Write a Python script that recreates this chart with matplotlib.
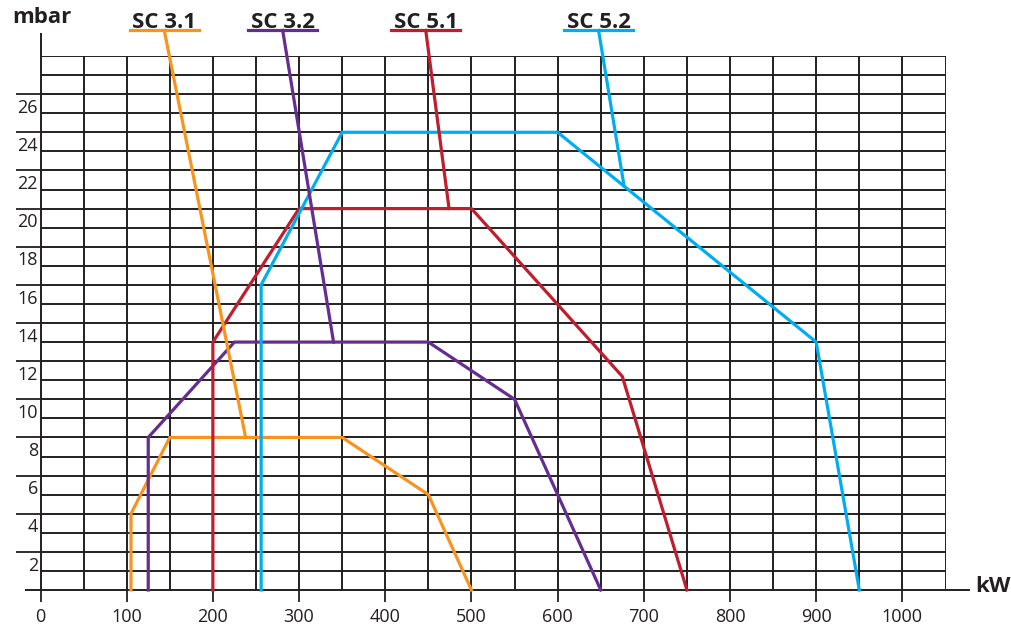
import matplotlib.pyplot as plt

# working range curves of the burners (kW vs mbar)
sc31_kw = [105, 105, 150, 350, 450, 500]
sc31_mbar = [0, 4, 8, 8, 5, 0]
sc32_kw = [125, 125, 225, 450, 550, 650]
sc32_mbar = [0, 8, 13, 13, 10, 0]
sc51_kw = [200, 200, 300, 500, 675, 750]
sc51_mbar = [0, 13, 20, 20, 11.2, 0]
sc52_kw = [256, 256, 350, 600, 900, 950]
sc52_mbar = [0, 16, 24, 24, 13, 0]

names = ['SC 3.1', 'SC 3.2', 'SC 5.1', 'SC 5.2']
colors = ['#F7941D', '#662D91', '#BE1E2D', '#00AEEF']
label_kw = [143.6, 281, 447, 647.5]          # centre of each name label
leader_kw = [238, 340, 474, 677]             # where the leader meets its curve
leader_mbar = [8, 13, 20, 21.2]

x_ticks = list(range(0, 1001, 100))
y_ticks = list(range(2, 27, 2))

INK = '#231F20'
plt.rcParams['font.family'] = ['Open Sans', 'DejaVu Sans']

fig = plt.figure(figsize=(10.11, 6.29), dpi=100)
ax = fig.add_axes([40.5 / 1011, 39 / 629, 905 / 1011, 534 / 629])
ax.set_xlim(0, 1050)
ax.set_ylim(0, 28)
for s in ax.spines.values():
    s.set_visible(False)

# grid
ax.vlines(range(50, 1051, 50), 0, 28, color=INK, lw=1.4, zorder=1)
ax.hlines(range(1, 29), 0, 1050, color=INK, lw=1.4, zorder=1)
ax.vlines(0, 0, 29.2, color=INK, lw=1.4, zorder=1, clip_on=False)
ax.hlines(0, -18, 1078, color=INK, lw=1.4, zorder=1, clip_on=False)

ax.set_xticks(x_ticks)
ax.set_yticks(y_ticks)
ax.tick_params(axis='x', length=8.6, width=1.3, color=INK, pad=4,
               labelsize=13, labelcolor=INK)
ax.tick_params(axis='y', length=18, width=1.3, color=INK, labelleft=False)
for v in y_ticks:
    ax.text(-2.5 / 905, v - 0.25, str(v), transform=ax.get_yaxis_transform(),
            ha='right', va='top', fontsize=13, color=INK)

curves = [(sc31_kw, sc31_mbar), (sc32_kw, sc32_mbar),
          (sc51_kw, sc51_mbar), (sc52_kw, sc52_mbar)]
for (xs, ys), c in zip(curves, colors):
    ax.plot(xs, ys, color=c, lw=2.3, zorder=3, clip_on=False,
            solid_joinstyle='miter')

# name labels with underline and leader line
for name, c, lx, ex, ey in zip(names, colors, label_kw, leader_kw, leader_mbar):
    ax.text(lx, 29.47, name, ha='center', va='baseline', fontsize=16,
            fontweight='bold', color=INK, clip_on=False)
    ax.plot([lx - 40, lx + 40], [29.34, 29.34], color=c, lw=2.3, clip_on=False)
    ax.plot([lx, ex], [29.34, ey], color=c, lw=2.3, zorder=3, clip_on=False)

fig.text(12.7 / 1011, 1 - 22.7 / 629, 'mbar', fontsize=16, fontweight='bold',
         color=INK, va='baseline')
fig.text(975 / 1011, 1 - 592 / 629, 'kW', fontsize=16, fontweight='bold',
         color=INK, va='baseline')

fig.savefig('out.png', dpi=100)
